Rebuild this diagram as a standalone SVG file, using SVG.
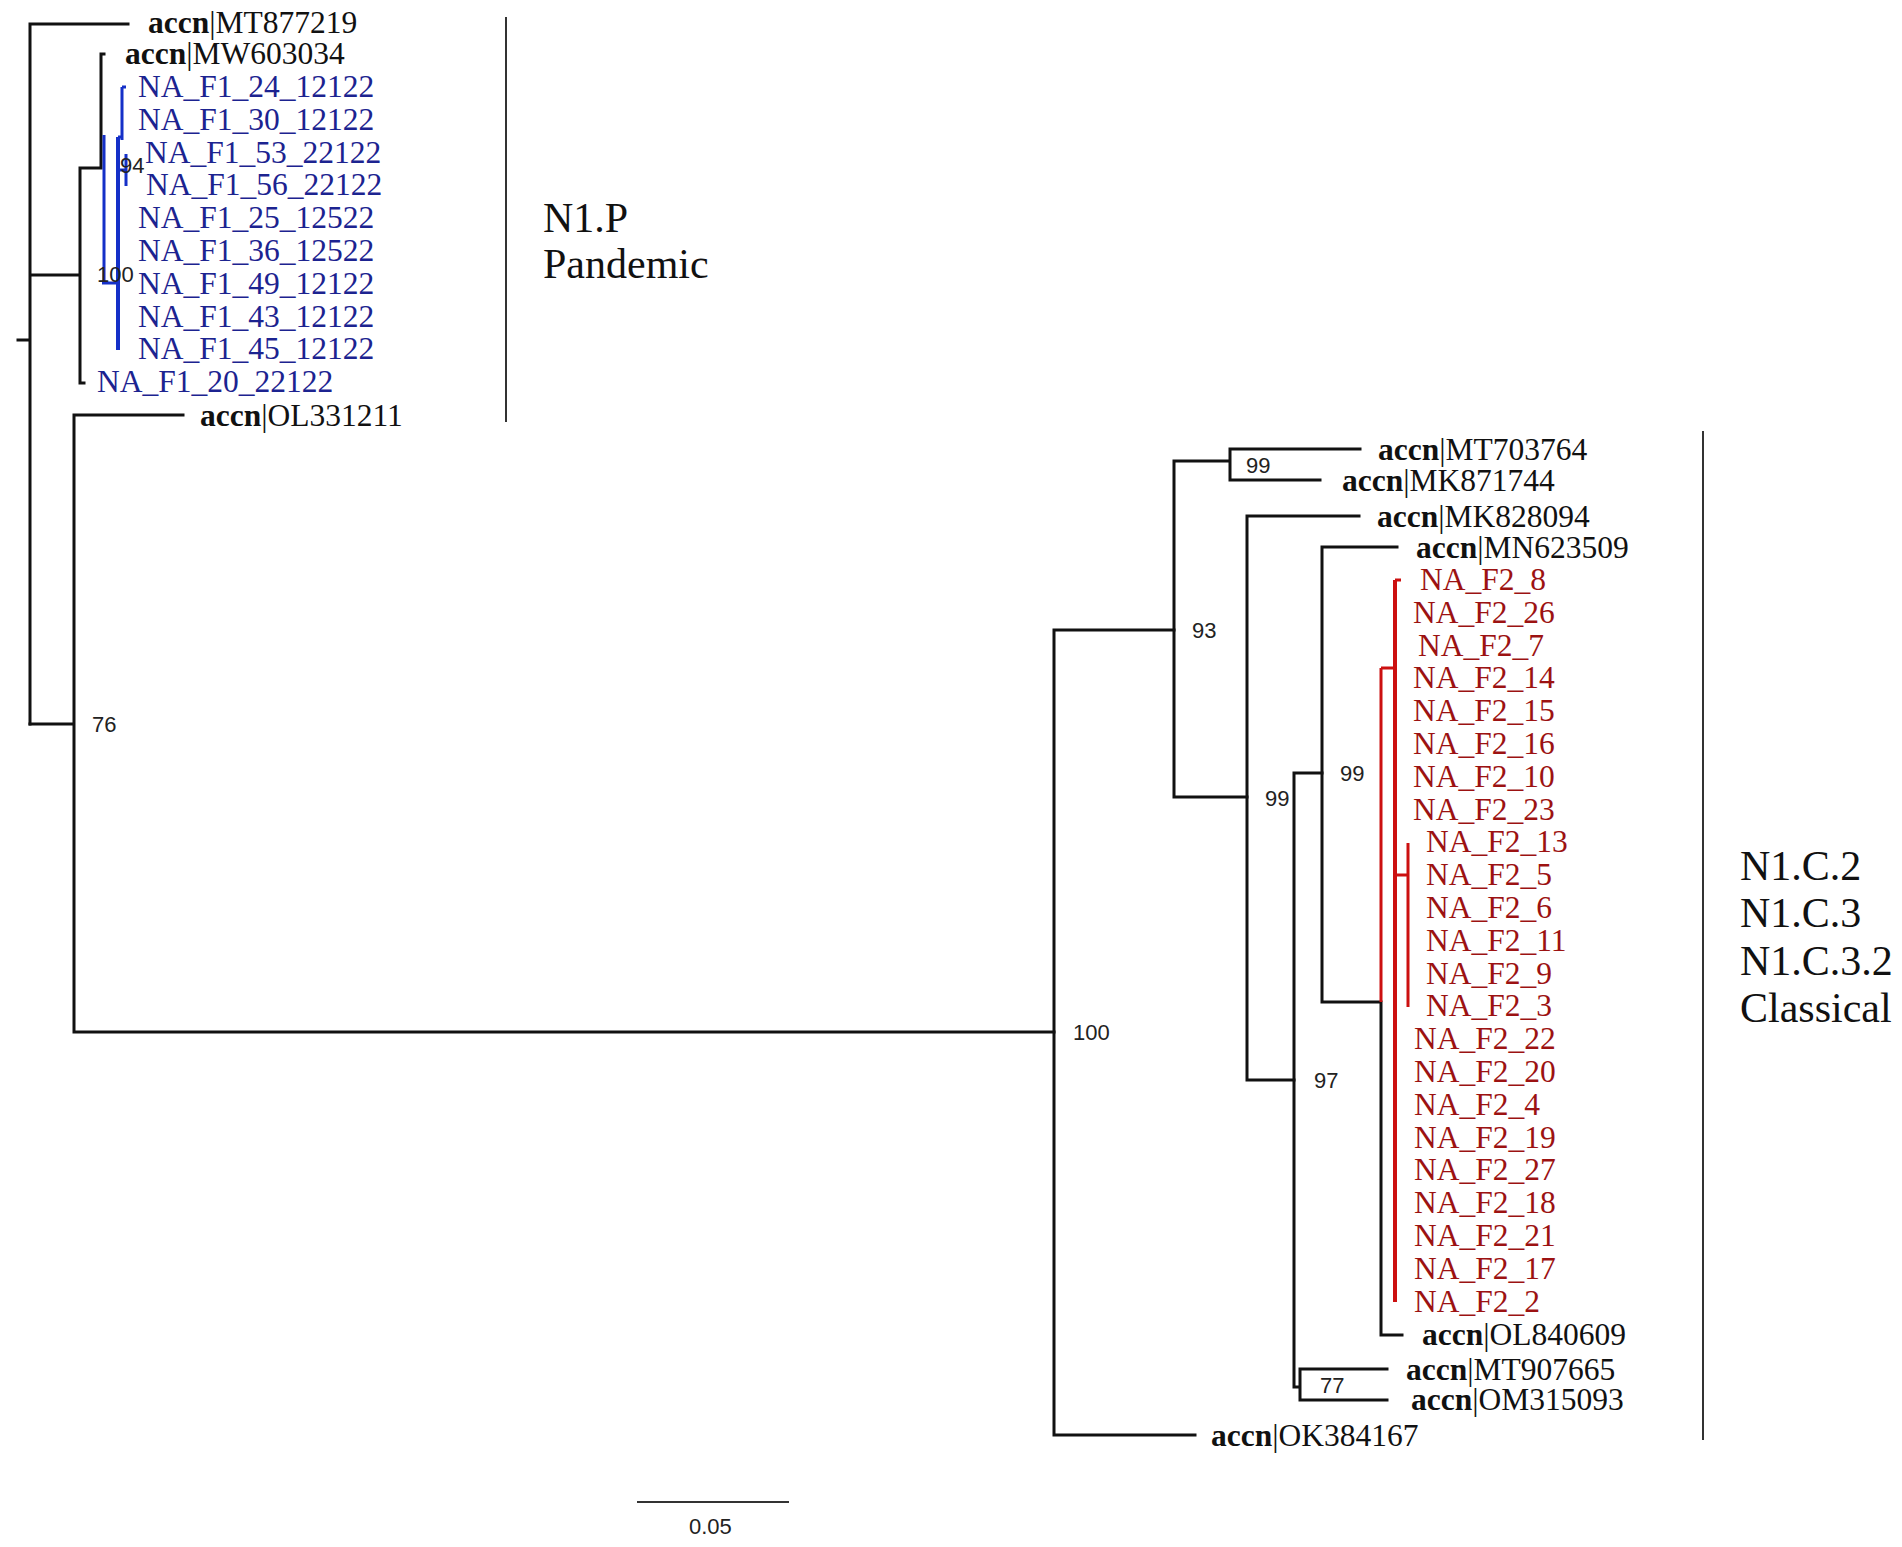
<svg xmlns="http://www.w3.org/2000/svg" width="1902" height="1547" viewBox="0 0 1902 1547">
<style>
.br{fill:none;stroke:#111;stroke-width:3;stroke-linecap:square}
.bb{fill:none;stroke:#1530c8;stroke-width:3}
.bbt{fill:none;stroke:#1530c8;stroke-width:4}
.rb{fill:none;stroke:#cc1010;stroke-width:3}
.rbt{fill:none;stroke:#cc1010;stroke-width:4}
.lbl{font-family:"Liberation Serif","Times New Roman",serif;font-size:31.5px;fill:#111}
.blu{font-family:"Liberation Serif","Times New Roman",serif;font-size:31.5px;fill:#1c2390}
.red{font-family:"Liberation Serif","Times New Roman",serif;font-size:31.5px;fill:#9c1212}
.bs{font-family:"Liberation Sans",Arial,sans-serif;font-size:22px;fill:#222}
.big{font-family:"Liberation Serif","Times New Roman",serif;font-size:42px;fill:#111}
.bar{stroke:#333;stroke-width:2;fill:none}
</style>
<rect width="1902" height="1547" fill="#fff"/>
<g id="connectors">
<!-- root -->
<path class="br" d="M18,340H30M30,24V724M30,24H128M30,275H80M80,168V383M80,168H101M101,54V168M101,54H104M80,383H84"/>
<!-- blue clade -->
<path class="bb" d="M104,135V283M102,283H118M118,137H122M122,87V140M122,87H126M118,170H126M126,154V186"/>
<path class="bbt" d="M118,137V350"/>
<!-- node 76 -->
<path class="br" d="M30,724H74M74,415V1032M74,415H183M74,1032H1054"/>
<!-- node 100 -->
<path class="br" d="M1054,630V1435M1054,1435H1195M1054,630H1174"/>
<!-- node 93 -->
<path class="br" d="M1174,461V797M1174,461H1230M1230,449V480M1230,449H1360M1230,480H1320M1174,797H1247"/>
<!-- node 99 mid -->
<path class="br" d="M1247,516V1080M1247,516H1359M1247,1080H1294"/>
<!-- node 97 -->
<path class="br" d="M1294,773V1387M1294,773H1322M1294,1387H1300M1300,1369V1400M1300,1369H1387M1300,1400H1387"/>
<!-- node 99 inner -->
<path class="br" d="M1322,547V1002M1322,547H1397M1322,1002H1381M1381,1002V1335M1381,1335H1402"/>
<!-- red clade -->
<path class="rb" d="M1381,668V1002M1381,668H1395M1395,580H1401M1395,875H1408M1408,843V1007"/>
<path class="rbt" d="M1395,580V1302"/>
<!-- brackets -->
<path class="bar" d="M506,17V422M1703,431V1440"/>
<!-- scale bar -->
<path class="bar" d="M637,1502H789"/>
</g>
<g id="bootstrap">
<text class="bs" x="92" y="732">76</text>
<text class="bs" x="97" y="282">100</text>
<text class="bs" x="120" y="173">94</text>
<text class="bs" x="1073" y="1040">100</text>
<text class="bs" x="1192" y="638">93</text>
<text class="bs" x="1246" y="473">99</text>
<text class="bs" x="1265" y="806">99</text>
<text class="bs" x="1314" y="1088">97</text>
<text class="bs" x="1340" y="781">99</text>
<text class="bs" x="1320" y="1393">77</text>
</g>
<g id="leaf-MT877219"><text class="lbl" x="148" y="33"><tspan font-weight="bold">accn</tspan>|MT877219</text></g>
<g id="leaf-MW603034"><text class="lbl" x="125" y="64"><tspan font-weight="bold">accn</tspan>|MW603034</text></g>
<g id="blue-leaves">
<text class="blu" x="138" y="97">NA_F1_24_12122</text>
<text class="blu" x="138" y="130">NA_F1_30_12122</text>
<text class="blu" x="145" y="163">NA_F1_53_22122</text>
<text class="blu" x="146" y="195">NA_F1_56_22122</text>
<text class="blu" x="138" y="228">NA_F1_25_12522</text>
<text class="blu" x="138" y="261">NA_F1_36_12522</text>
<text class="blu" x="138" y="294">NA_F1_49_12122</text>
<text class="blu" x="138" y="327">NA_F1_43_12122</text>
<text class="blu" x="138" y="359">NA_F1_45_12122</text>
<text class="blu" x="97" y="392">NA_F1_20_22122</text>
</g>
<g id="leaf-OL331211"><text class="lbl" x="200" y="426"><tspan font-weight="bold">accn</tspan>|OL331211</text></g>
<g id="leaf-MT703764"><text class="lbl" x="1378" y="460"><tspan font-weight="bold">accn</tspan>|MT703764</text></g>
<g id="leaf-MK871744"><text class="lbl" x="1342" y="491"><tspan font-weight="bold">accn</tspan>|MK871744</text></g>
<g id="leaf-MK828094"><text class="lbl" x="1377" y="527"><tspan font-weight="bold">accn</tspan>|MK828094</text></g>
<g id="leaf-MN623509"><text class="lbl" x="1416" y="558"><tspan font-weight="bold">accn</tspan>|MN623509</text></g>
<g id="red-leaves">
<text class="red" x="1420" y="590">NA_F2_8</text>
<text class="red" x="1413" y="623">NA_F2_26</text>
<text class="red" x="1418" y="656">NA_F2_7</text>
<text class="red" x="1413" y="688">NA_F2_14</text>
<text class="red" x="1413" y="721">NA_F2_15</text>
<text class="red" x="1413" y="754">NA_F2_16</text>
<text class="red" x="1413" y="787">NA_F2_10</text>
<text class="red" x="1413" y="820">NA_F2_23</text>
<text class="red" x="1426" y="852">NA_F2_13</text>
<text class="red" x="1426" y="885">NA_F2_5</text>
<text class="red" x="1426" y="918">NA_F2_6</text>
<text class="red" x="1426" y="951">NA_F2_11</text>
<text class="red" x="1426" y="984">NA_F2_9</text>
<text class="red" x="1426" y="1016">NA_F2_3</text>
<text class="red" x="1414" y="1049">NA_F2_22</text>
<text class="red" x="1414" y="1082">NA_F2_20</text>
<text class="red" x="1414" y="1115">NA_F2_4</text>
<text class="red" x="1414" y="1148">NA_F2_19</text>
<text class="red" x="1414" y="1180">NA_F2_27</text>
<text class="red" x="1414" y="1213">NA_F2_18</text>
<text class="red" x="1414" y="1246">NA_F2_21</text>
<text class="red" x="1414" y="1279">NA_F2_17</text>
<text class="red" x="1414" y="1312">NA_F2_2</text>
</g>
<g id="leaf-OL840609"><text class="lbl" x="1422" y="1345"><tspan font-weight="bold">accn</tspan>|OL840609</text></g>
<g id="leaf-MT907665"><text class="lbl" x="1406" y="1380"><tspan font-weight="bold">accn</tspan>|MT907665</text></g>
<g id="leaf-OM315093"><text class="lbl" x="1411" y="1410"><tspan font-weight="bold">accn</tspan>|OM315093</text></g>
<g id="leaf-OK384167"><text class="lbl" x="1211" y="1446"><tspan font-weight="bold">accn</tspan>|OK384167</text></g>
<g id="clade-pandemic">
<text class="big" x="543" y="232">N1.P</text>
<text class="big" x="543" y="278">Pandemic</text>
</g>
<g id="clade-classical">
<text class="big" x="1740" y="880">N1.C.2</text>
<text class="big" x="1740" y="927">N1.C.3</text>
<text class="big" x="1740" y="975">N1.C.3.2</text>
<text class="big" x="1740" y="1022">Classical</text>
</g>
<g id="scale"><text class="bs" x="689" y="1534">0.05</text></g>
</svg>
